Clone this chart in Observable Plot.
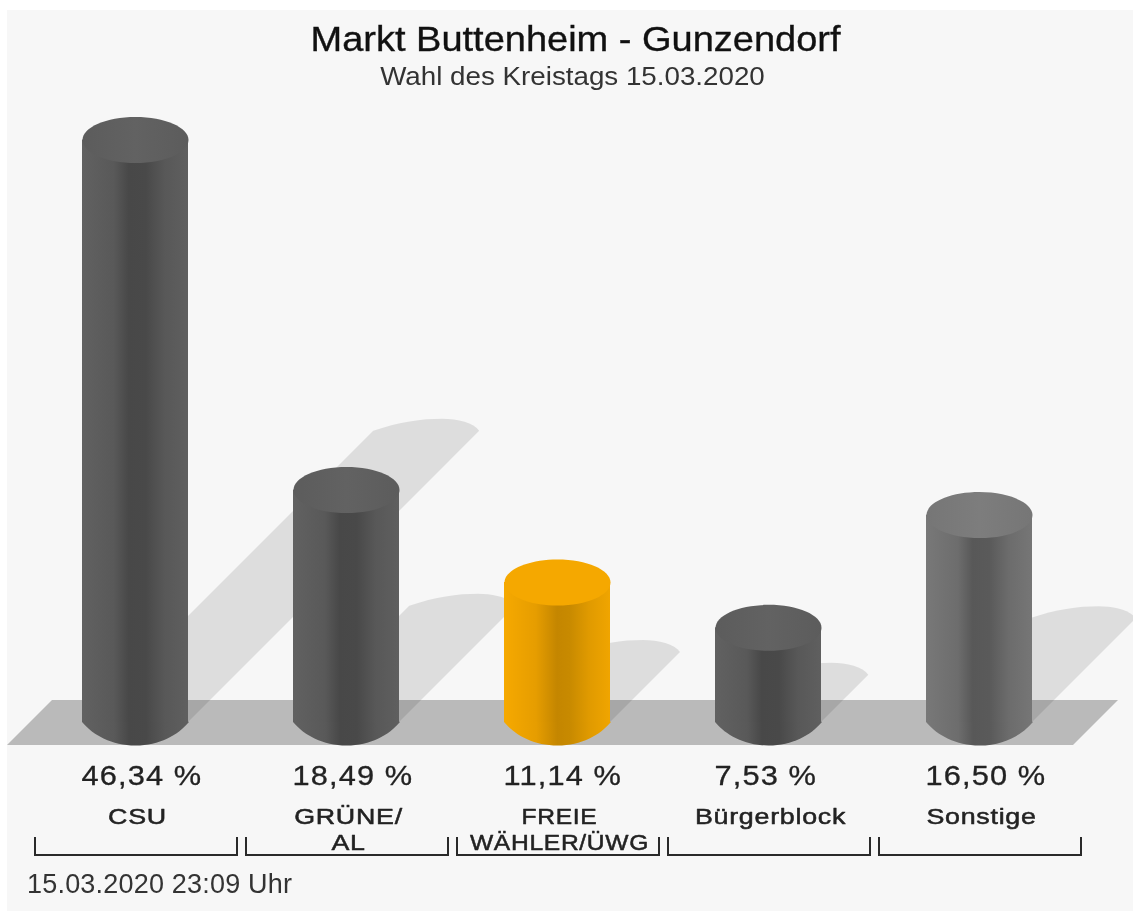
<!DOCTYPE html>
<html><head><meta charset="utf-8">
<script src="https://cdn.jsdelivr.net/npm/d3@7"></script>
<script src="https://cdn.jsdelivr.net/npm/@observablehq/plot@0.6"></script>
<style>
html,body{margin:0;padding:0;background:#fff;overflow:hidden}
#root{position:relative;width:1133px;height:911px;overflow:hidden;font-family:"Liberation Sans",Arial,sans-serif}
#panel{position:absolute;left:7px;top:10px;right:0;bottom:0;background:#f7f7f7}
#head{position:absolute;left:0;top:0;width:1133px;height:100px;filter:blur(.5px)}
#title{position:absolute;left:0;width:1151px;top:18px;text-align:center;font-size:35.5px;line-height:42px;color:#111;transform:scaleX(1.07);-webkit-text-stroke:.35px #111}
#sub{position:absolute;left:0;width:1145px;top:60px;text-align:center;font-size:25px;line-height:32px;color:#333;transform:scaleX(1.11)}
#chart{position:absolute;left:0;top:100px;filter:blur(.5px)}
#foot{position:absolute;left:27px;top:867px;font-size:27px;line-height:34px;color:#333;letter-spacing:.2px;filter:blur(.5px)}
</style></head>
<body><div id="root"><div id="panel"></div>
<div id="head"><div id="title">Markt Buttenheim - Gunzendorf</div><div id="sub">Wahl des Kreistags 15.03.2020</div></div>
<div id="chart"></div>
<div id="foot">15.03.2020 23:09 Uhr</div></div>
<script>
const parties = ["CSU", "GRÜNE/\nAL", "FREIE\nWÄHLER/ÜWG", "Bürgerblock", "Sonstige"];
const shares = [46.34, 18.49, 11.14, 7.53, 16.50];
const shareLabels = ["46,34 %", "18,49 %", "11,14 %", "7,53 %", "16,50 %"];

const bodyFill = ["url(#gDark)", "url(#gDark)", "url(#gOrange)", "url(#gDark)", "url(#gGrey)"];
const capFill = ["url(#cDark)", "url(#cDark)", "#f5a800", "url(#cDark)", "url(#cGrey)"];
const rows = parties.map((name, i) => ({name, share: shares[i], label: shareLabels[i], body: bodyFill[i], cap: capFill[i]}));

const RX = 53, RY = 23;
const ellipse = {draw(c, size) {
  const r = Math.sqrt(size / Math.PI), ry = r * RY / RX, k = 0.5523;
  c.moveTo(-r, 0);
  c.bezierCurveTo(-r, -ry * k, -r * k, -ry, 0, -ry);
  c.bezierCurveTo(r * k, -ry, r, -ry * k, r, 0);
  c.bezierCurveTo(r, ry * k, r * k, ry, 0, ry);
  c.bezierCurveTo(-r * k, ry, -r, ry * k, -r, 0);
  c.closePath();
}};
const bottom = {draw(c, size) {
  const r = Math.sqrt(size / Math.PI), ry = r * RY / RX;
  c.moveTo(-r, -1);
  c.lineTo(r, -1);
  c.lineTo(r, 0);
  c.bezierCurveTo(r * .8, ry * .55, r * .45, ry, 0, ry);
  c.bezierCurveTo(-r * .45, ry, -r * .8, ry * .55, -r, 0);
  c.closePath();
}};

function grad(defs, id, stops) {
  const g = defs.append("linearGradient").attr("id", id).attr("x1", 0).attr("x2", 1).attr("y1", 0).attr("y2", 0);
  for (const [o, c] of stops) g.append("stop").attr("offset", o).attr("stop-color", c);
}
const defsMark = () => {
  const defs = d3.create("svg:defs");
  grad(defs, "gDark", [[0, "#616161"], [.3, "#595959"], [.44, "#484848"], [.6, "#494949"], [.78, "#585858"], [1, "#5f5f5f"]]);
  grad(defs, "gGrey", [[0, "#787878"], [.3, "#6d6d6d"], [.44, "#585858"], [.6, "#5a5a5a"], [.78, "#6c6c6c"], [1, "#767676"]]);
  grad(defs, "gOrange", [[0, "#f6a900"], [.3, "#e69d00"], [.5, "#c48600"], [.62, "#c88a00"], [.8, "#e09a00"], [1, "#f0a500"]]);
  grad(defs, "cDark", [[0, "#5c5c5c"], [.5, "#626262"], [1, "#5c5c5c"]]);
  grad(defs, "cGrey", [[0, "#767676"], [.5, "#7d7d7d"], [1, "#767676"]]);
  return defs.node();
};

const floorMark = (i, {x, y}) => {
  const [a, b] = x.range ? x.range() : [35, 1081];
  const y0 = y(0), p = d3.path();
  p.moveTo(a - 28, y0 + 23); p.lineTo(a + 17, y0 - 22); p.lineTo(b + 37, y0 - 22); p.lineTo(b - 8, y0 + 23); p.closePath();
  return d3.create("svg:path").attr("d", p.toString()).attr("fill", "#bababa").node();
};

const shadowMark = (i, {x, y}) => {
  const g = d3.create("svg:g").attr("aria-label", "shadows");
  const bw = x.bandwidth();
  for (const r of rows) {
    const c = x(r.name) + bw / 2 - 1, y0 = y(0), h = y0 - y(r.share), o = h * 0.5;
    const L = c - RX + o, R = c + RX + o, w = R - L, t = y0 - o;
    g.append("path").attr("fill", "#000").attr("fill-opacity", 0.1)
      .attr("d", `M${c - RX},${y0}L${L},${t}C${L + .25 * w},${t - 9} ${L + .45 * w},${t - 12} ${L + .65 * w},${t - 12}C${L + .8 * w},${t - 12} ${L + .95 * w},${t - 8} ${R},${t}L${c + RX},${y0}Z`);
  }
  return g.node();
};

const bracketMark = (i, {x, y}) => {
  const g = d3.create("svg:g").attr("aria-label", "brackets");
  const bw = x.bandwidth(), y0 = y(0);
  for (const n of parties) {
    const l = x(n);
    g.append("path").attr("fill", "none").attr("stroke", "#2a2a2a").attr("stroke-width", 2)
      .attr("d", `M${l},${y0 + 115}V${y0 + 133}H${l + bw}V${y0 + 115}`);
  }
  return g.node();
};

const chart = Plot.plot({
  width: 1133, height: 762,
  marginLeft: 35, marginRight: 52, marginTop: 25, marginBottom: 140,
  style: {background: "transparent", fontFamily: '"Liberation Sans",Arial,sans-serif'},
  x: {domain: parties, type: "band", paddingInner: 9 / 211, paddingOuter: 0, round: false, axis: null},
  y: {domain: [0, 47.5], axis: null},
  color: {type: "identity"},
  marks: [
    defsMark,
    floorMark,
    shadowMark,
    Plot.dot(rows, {x: "name", y: () => 0, r: RX, symbol: bottom, fill: "body", dx: -1}),
    Plot.barY(rows, {x: "name", y: "share", fill: "body", insetLeft: 47, insetRight: 49}),
    Plot.dot(rows, {x: "name", y: "share", r: RX, symbol: ellipse, fill: "cap", dx: -1}),
    Plot.text(rows, {x: "name", y: () => 0, text: "label", dy: 54, dx: -55, textAnchor: "start", fontSize: 27, fill: "#222", stroke: "#222", strokeWidth: 0.3}),
    Plot.text(rows, {x: "name", y: () => 0, text: "name", dy: 83, dx: 1, lineAnchor: "top", lineHeight: 1.18, fontSize: 22, fill: "#222", stroke: "#222", strokeWidth: 0.5}),
    bracketMark
  ]
});
document.getElementById("chart").append(chart);
const texts = d3.select(chart).selectAll('g[aria-label="text"]').nodes();
const stretch = (g, spacing, k) => d3.select(g).style("letter-spacing", spacing).selectAll("text")
  .attr("transform", function() {
    const f = typeof k === "function" ? k(this.textContent) : k;
    return `${this.getAttribute("transform") || ""} scale(${f},1)`;
  });
stretch(texts[0], "1px", 1.14);
stretch(texts[1], ".6px", t => t.includes("WÄHLER") ? 1.12 : 1.22);
</script></body></html>
